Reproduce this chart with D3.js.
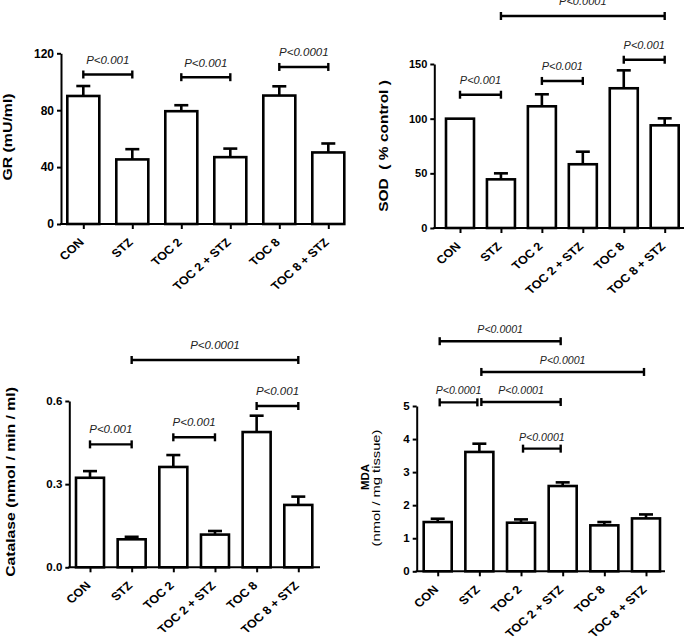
<!DOCTYPE html>
<html>
<head>
<meta charset="utf-8">
<script src="https://d3js.org/d3.v7.min.js"></script>
<style>
  html, body { margin: 0; padding: 0; background: #fff; }
  svg { display: block; font-family: "Liberation Sans", Arial, sans-serif; }
</style>
</head>
<body>
<svg id="chart" width="685" height="640"></svg>
<script>
// ---------------- DATA ----------------
const categories = ["CON", "STZ", "TOC 2", "TOC 2 + STZ", "TOC 8", "TOC 8 + STZ"];

const grMean = [90, 45.4, 79.3, 47, 90.3, 50.3];
const grSem  = [7, 7.2, 4.2, 6, 6.5, 6.3];
const grTicks = [0, 40, 80, 120];
const grBrackets = [[0, 1, 105.1, "P<0.001"], [2, 3, 103.2, "P<0.001"], [4, 5, 110.4, "P<0.0001"]];

const sodMean = [100, 44.5, 111.3, 58.3, 127.8, 93.9];
const sodSem  = [0, 5.5, 11, 11.5, 16.4, 6.4];
const sodTicks = [0, 50, 100, 150];
const sodBrackets = [[0, 1, 121.9, "P<0.001"], [2, 3, 134.5, "P<0.001"], [4, 5, 153.9, "P<0.001"], [1, 5, 193.9, "P<0.0001"]];

const catMean = [0.323, 0.101, 0.362, 0.118, 0.488, 0.225];
const catSem  = [0.024, 0.009, 0.043, 0.013, 0.059, 0.030];
const catTicks = [0, 0.3, 0.6];
const catBrackets = [[0, 1, 0.4435, "P<0.001"], [2, 3, 0.469, "P<0.001"], [4, 5, 0.582, "P<0.001"], [1, 5, 0.748, "P<0.0001"]];

const mdaMean = [1.49, 3.61, 1.47, 2.58, 1.39, 1.60];
const mdaSem  = [0.10, 0.25, 0.10, 0.11, 0.10, 0.12];
const mdaTicks = [0, 1, 2, 3, 4, 5];
const mdaBrackets = [[0, 1, 5.11, "P<0.0001"], [1, 3, 5.12, "P<0.0001"], [2, 3, 3.71, "P<0.0001"], [1, 5, 6.03, "P<0.0001"], [0, 3, 6.96, "P<0.0001"]];

// ---------------- LAYOUT ----------------
const panels = [
  { mean: grMean, sem: grSem, ticks: grTicks, brackets: grBrackets, fmt: d3.format("d"),
    axisX: 61, axisEnd: 344, y0: 224, yTop: 53.3, yMax: 120, c0: 83.3, c1: 328.3, barW: 32,
    tickFont: 12, pFont: 11.5, pDy: -10.5, inset: 0,
    titles: [{ text: "GR (mU/ml)", x: 7.5, y: 137, size: 12.5, weight: "bold", sx: 1.27 }] },
  { mean: sodMean, sem: sodSem, ticks: sodTicks, brackets: sodBrackets, fmt: d3.format("d"),
    axisX: 434.3, axisEnd: 684, y0: 228, yTop: 64, yMax: 150, c0: 460, c1: 664.7, barW: 28,
    tickFont: 11, pFont: 11, pDy: -11, inset: 0,
    titles: [{ text: "SOD  ( % control )", x: 383.5, y: 146, size: 12.5, weight: "bold", sx: 1.24 }] },
  { mean: catMean, sem: catSem, ticks: catTicks, brackets: catBrackets, fmt: d3.format(".1f"),
    axisX: 69.3, axisEnd: 320, y0: 567.3, yTop: 401, yMax: 0.6, c0: 90, c1: 298.3, barW: 28,
    tickFont: 11.5, pFont: 11.5, pDy: -11, inset: 0,
    titles: [{ text: "Catalase (nmol / min / ml)", x: 10.5, y: 482, size: 12.5, weight: "bold", sx: 1.26 }] },
  { mean: mdaMean, sem: mdaSem, ticks: mdaTicks, brackets: mdaBrackets, fmt: d3.format("d"),
    axisX: 416.7, axisEnd: 665, y0: 571.3, yTop: 406, yMax: 5, c0: 437.7, c1: 646, barW: 28,
    tickFont: 11.5, pFont: 10.6, pDy: -8, inset: 2,
    titles: [{ text: "MDA", x: 365, y: 477, size: 11.5, weight: "bold", sx: 1.0 },
             { text: "(nmol / mg tissue)", x: 376, y: 488, size: 11.5, weight: "normal", sx: 1.28 }] }
];

const svg = d3.select("#chart");
const FONT = "'Liberation Sans', Arial, sans-serif";

panels.forEach(p => {
  const g = svg.append("g");
  const y = d3.scaleLinear().domain([0, p.yMax]).range([p.y0, p.yTop]);
  const x = d3.scalePoint().domain(categories).range([p.c0, p.c1]);

  // bars
  g.selectAll("rect.bar").data(categories).join("rect")
    .attr("x", d => x(d) - p.barW / 2)
    .attr("y", (d, i) => y(p.mean[i]))
    .attr("width", p.barW)
    .attr("height", (d, i) => y(0) - y(p.mean[i]))
    .attr("fill", "#fff").attr("stroke", "#000").attr("stroke-width", 2.6);

  // error bars
  const eb = g.selectAll("g.err").data(categories).join("g");
  eb.append("line")
    .attr("x1", d => x(d)).attr("x2", d => x(d))
    .attr("y1", (d, i) => y(p.mean[i])).attr("y2", (d, i) => y(p.mean[i] + p.sem[i]))
    .attr("stroke", "#000").attr("stroke-width", 2.6);
  eb.append("line")
    .attr("x1", d => x(d) - 7).attr("x2", d => x(d) + 7)
    .attr("y1", (d, i) => y(p.mean[i] + p.sem[i])).attr("y2", (d, i) => y(p.mean[i] + p.sem[i]))
    .attr("stroke", "#000").attr("stroke-width", 2.6)
    .attr("display", (d, i) => p.sem[i] > 0 ? null : "none");

  // y axis
  const ya = g.append("g").attr("transform", `translate(${p.axisX},0)`)
    .call(d3.axisLeft(y).tickValues(p.ticks).tickFormat(p.fmt).tickSize(4).tickSizeOuter(0).tickPadding(3));
  ya.select(".domain").attr("stroke-width", 2);
  ya.selectAll(".tick line").attr("stroke-width", 2);
  ya.selectAll(".tick text").attr("font-family", FONT).attr("font-weight", "bold")
    .attr("font-size", p.tickFont).attr("fill", "#000");

  // x axis
  const xa = g.append("g").attr("transform", `translate(0,${p.y0})`)
    .call(d3.axisBottom(x).tickSize(5).tickSizeOuter(0).tickFormat(""));
  xa.select(".domain").remove();
  xa.selectAll(".tick line").attr("stroke-width", 2);
  g.append("line").attr("x1", p.axisX - 1).attr("x2", p.axisEnd)
    .attr("y1", p.y0).attr("y2", p.y0).attr("stroke", "#000").attr("stroke-width", 2);

  g.selectAll("text.xl").data(categories).join("text")
    .attr("transform", d => `translate(${x(d) + 1.5},${p.y0 + 19}) scale(1.06,0.95) rotate(-45)`)
    .attr("text-anchor", "end")
    .attr("font-family", FONT).attr("font-weight", "bold").attr("font-size", 12)
    .text(d => d);

  // significance brackets
  p.brackets.forEach(([a, b, v, lab]) => {
    const xa1 = x(categories[a]) + p.inset, xb1 = x(categories[b]) - p.inset, yy = y(v);
    const bg = g.append("g").attr("stroke", "#000").attr("stroke-width", 2.4);
    bg.append("line").attr("x1", xa1).attr("x2", xb1).attr("y1", yy).attr("y2", yy);
    bg.append("line").attr("x1", xa1).attr("x2", xa1).attr("y1", yy - 4).attr("y2", yy + 4);
    bg.append("line").attr("x1", xb1).attr("x2", xb1).attr("y1", yy - 4).attr("y2", yy + 4);
    g.append("text").attr("x", (xa1 + xb1) / 2).attr("y", yy + p.pDy)
      .attr("text-anchor", "middle").attr("font-family", FONT).attr("font-style", "italic")
      .attr("font-size", p.pFont).attr("fill", "#222").text(lab);
  });

  // titles
  p.titles.forEach(t => {
    g.append("text")
      .attr("transform", `translate(${t.x},${t.y}) rotate(-90) scale(${t.sx},1)`)
      .attr("text-anchor", "middle").attr("dy", "0.36em")
      .attr("font-family", FONT).attr("font-weight", t.weight).attr("font-size", t.size)
      .style("white-space", "pre")
      .text(t.text);
  });
});
</script>
</body>
</html>
